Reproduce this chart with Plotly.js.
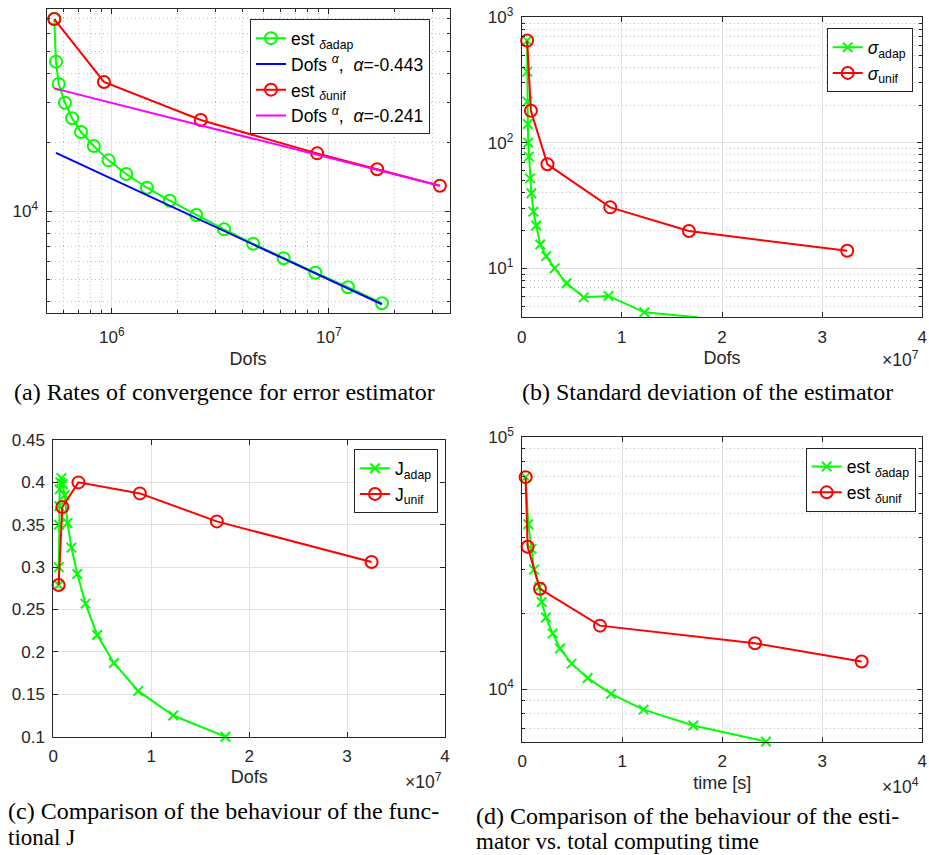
<!DOCTYPE html>
<html>
<head>
<meta charset="utf-8">
<script src="https://cdn.plot.ly/plotly-3.0.1.min.js"></script>
<style>
  html, body { margin: 0; padding: 0; background: #fff; }
  #fig { width: 929px; height: 855px; }
</style>
</head>
<body>
<div id="fig"></div>
<script>
// ---- Data ----------------------------------------------------------------
// Degrees of freedom of the adaptive refinement steps
const dofsAdap = [5.43e5, 5.53e5, 5.69e5, 6.08e5, 6.56e5, 7.21e5, 8.26e5, 9.66e5, 1.166e6,
                  1.452e6, 1.849e6, 2.45e6, 3.29e6, 4.48e6, 6.19e6, 8.67e6, 1.225e7, 1.758e7];
// Error estimator, adaptive
const estAdap = [6.95e4, 4.52e4, 3.61e4, 2.985e4, 2.55e4, 2.22e4, 1.928e4, 1.668e4, 1.453e4,
                 1.265e4, 1.11e4, 9.6e3, 8.31e3, 7.19e3, 6.21e3, 5.36e3, 4.63e3, 3.94e3];
// Degrees of freedom of the uniform refinement steps
const dofsUnif = [5.43e5, 9.2e5, 2.57e6, 8.84e6, 1.67e7, 3.25e7];
// Error estimator, uniform
const estUnif = [6.95e4, 3.68e4, 2.506e4, 1.79e4, 1.524e4, 1.29e4];

// Fitted convergence rates (end points of the reference lines)
const alphaAdap = -0.443;
const fitAdapDofs = [5.53e5, 1.758e7];
const fitAdapEst = [1.80e4, 3.90e3];
const alphaUnif = -0.241;
const fitUnifDofs = [5.43e5, 3.25e7];
const fitUnifEst = [3.45e4, 1.29e4];

// Standard deviation of the estimator
const sigmaAdap = [652, 369, 213, 141, 100, 77.6, 52.1, 39.6, 28.3, 21.9, 15.5, 12.5,
                   10.0, 7.6, 5.87, 6.02, 4.46, 4.07];
const sigmaUnif = [652, 180, 67.4, 30.6, 19.8, 13.8];

// Functional J
const JAdap = [0.279, 0.300, 0.350, 0.372, 0.392, 0.400, 0.405, 0.398, 0.385,
               0.352, 0.323, 0.292, 0.257, 0.220, 0.187, 0.154, 0.125, 0.100];
const JUnif = [0.279, 0.371, 0.400, 0.387, 0.354, 0.306];

// Total computing time [s] (adaptive run: first 15 steps)
const timeAdap = [333, 600, 933, 1167, 1700, 1933, 2367, 3033, 3767, 4933, 6533, 8867,
                  12133, 17100, 24367];
const timeUnif = [333, 533, 1767, 7767, 23267, 33933];

// Tick values
const linTicks7 = [0, 1e7, 2e7, 3e7, 4e7];
const linTicks4 = [0, 1e4, 2e4, 3e4, 4e4];
const linTickText = ['0', '1', '2', '3', '4'];
const jTicks = [0.1, 0.15, 0.2, 0.25, 0.3, 0.35, 0.4, 0.45];

// ---- Layout helpers --------------------------------------------------------
const W = 929, H = 855;
const px = v => v / W;
const py = v => 1 - v / H;
const xdom = (a, b) => [px(a), px(b)];
const ydom = (top, bottom) => [py(bottom), py(top)];

const SANS = 'Liberation Sans, Arial, Helvetica, sans-serif';
const SERIF = 'Liberation Serif, Times New Roman, serif';
const AX = '#262626';
const GREEN = '#00ff00', RED = '#ff0000', BLUE = '#0000ff', MAGENTA = '#ff00ff';

function decadeMinor(lo, hi) {
  const out = [];
  for (let e = lo; e < hi; e++) {
    for (let m = 2; m <= 9; m++) out.push(m * Math.pow(10, e));
  }
  return out;
}

function axis(extra) {
  return Object.assign({
    showline: true, linecolor: AX, linewidth: 1, mirror: 'ticks',
    ticks: 'inside', ticklen: 5, tickwidth: 1, tickcolor: AX,
    showgrid: true, gridcolor: '#e0e0e0', gridwidth: 1, zeroline: false,
    tickfont: { family: SANS, size: 17, color: AX },
    tickmode: 'array'
  }, extra);
}
function minorLog(vals) {
  return {
    tickmode: 'array', tickvals: vals, ticks: 'inside', ticklen: 3, tickcolor: AX,
    showgrid: true, gridcolor: '#bdbdbd', griddash: '1px,3px', gridwidth: 1
  };
}
function xtitle(text, standoff) {
  return { text: text, font: { family: SANS, size: 18, color: AX }, standoff: standoff };
}
function legendAt(x, y) {
  return {
    x: px(x), y: py(y), xanchor: 'left', yanchor: 'top',
    bgcolor: '#ffffff', bordercolor: AX, borderwidth: 1,
    font: { family: SANS, size: 17.5, color: '#000' },
    tracegroupgap: 0, itemwidth: 30
  };
}

const circ = (color) => ({ symbol: 'circle-open', size: 12, color: color, line: { width: 2, color: color } });
const cross = (color) => ({ symbol: 'x-thin-open', size: 9.5, color: color, line: { width: 2, color: color } });
const ln = (color) => ({ color: color, width: 2 });

// ---- Traces ------------------------------------------------------------------
const traces = [
  // (a) convergence rates
  { x: dofsAdap, y: estAdap, xaxis: 'x', yaxis: 'y', legend: 'legend', mode: 'lines+markers',
    line: ln(GREEN), marker: circ(GREEN), cliponaxis: false,
    name: 'est <sub><i>δ</i>adap</sub>' },
  { x: fitAdapDofs, y: fitAdapEst, xaxis: 'x', yaxis: 'y', legend: 'legend', mode: 'lines',
    line: ln(BLUE), name: 'Dofs <sup><i>α</i></sup>,  <i>α</i>=' + alphaAdap.toFixed(3) },
  { x: dofsUnif, y: estUnif, xaxis: 'x', yaxis: 'y', legend: 'legend', mode: 'lines+markers',
    line: ln(RED), marker: circ(RED), cliponaxis: false,
    name: 'est <sub><i>δ</i>unif</sub>' },
  { x: fitUnifDofs, y: fitUnifEst, xaxis: 'x', yaxis: 'y', legend: 'legend', mode: 'lines',
    line: ln(MAGENTA), name: 'Dofs <sup><i>α</i></sup>,  <i>α</i>=' + alphaUnif.toFixed(3) },

  // (b) standard deviation
  { x: dofsAdap, y: sigmaAdap, xaxis: 'x2', yaxis: 'y2', legend: 'legend2', mode: 'lines+markers',
    line: ln(GREEN), marker: cross(GREEN), cliponaxis: false, name: '<i>σ</i><sub>adap</sub>' },
  { x: dofsUnif, y: sigmaUnif, xaxis: 'x2', yaxis: 'y2', legend: 'legend2', mode: 'lines+markers',
    line: ln(RED), marker: circ(RED), cliponaxis: false, name: '<i>σ</i><sub>unif</sub>' },

  // (c) functional J
  { x: dofsAdap, y: JAdap, xaxis: 'x3', yaxis: 'y3', legend: 'legend3', mode: 'lines+markers',
    line: ln(GREEN), marker: cross(GREEN), cliponaxis: false, name: 'J<sub>adap</sub>' },
  { x: dofsUnif, y: JUnif, xaxis: 'x3', yaxis: 'y3', legend: 'legend3', mode: 'lines+markers',
    line: ln(RED), marker: circ(RED), cliponaxis: false, name: 'J<sub>unif</sub>' },

  // (d) estimator vs. computing time
  { x: timeAdap, y: estAdap.slice(0, timeAdap.length), xaxis: 'x4', yaxis: 'y4', legend: 'legend4',
    mode: 'lines+markers', line: ln(GREEN), marker: cross(GREEN), cliponaxis: false,
    name: 'est <sub><i>δ</i>adap</sub>' },
  { x: timeUnif, y: estUnif, xaxis: 'x4', yaxis: 'y4', legend: 'legend4', mode: 'lines+markers',
    line: ln(RED), marker: circ(RED), cliponaxis: false, name: 'est <sub><i>δ</i>unif</sub>' }
];

// ---- Captions and exponent labels ------------------------------------------------
function note(text, x, y, xanchor, font) {
  return { text: text, x: px(x), y: py(y), xref: 'paper', yref: 'paper', xanchor: xanchor,
           yanchor: 'middle', showarrow: false, font: font };
}
const capFont = { family: SERIF, size: 24, color: '#000' };
const capFont2 = { family: SERIF, size: 23, color: '#000' };
const expFont = { family: SANS, size: 17.5, color: AX };

const annotations = [
  note('(a) Rates of convergence for error estimator', 224, 392, 'center', capFont),
  note('(b) Standard deviation of the estimator', 707, 392, 'center', capFont),
  note('(c) Comparison of the behaviour of the func-', 6, 811, 'left', capFont),
  note('tional J', 6, 837, 'left', capFont2),
  note('(d) Comparison of the behaviour of the esti-', 474, 816, 'left', capFont),
  note('mator vs. total computing time', 474, 841, 'left', capFont2),
  note('×10<sup>7</sup>', 921, 359, 'right', expFont),
  note('×10<sup>7</sup>', 444, 781, 'right', expFont),
  note('×10<sup>4</sup>', 921, 786, 'right', expFont)
];

// ---- Layout --------------------------------------------------------------------
const layout = {
  width: W, height: H,
  margin: { l: 0, r: 0, t: 0, b: 0, pad: 0 },
  paper_bgcolor: '#ffffff', plot_bgcolor: '#ffffff',
  font: { family: SANS, color: AX },
  showlegend: true,

  xaxis: axis({ domain: xdom(46.5, 449.5), anchor: 'y', type: 'log',
    range: [Math.log10(5e5), Math.log10(3.6e7)],
    tickvals: [1e6, 1e7], ticktext: ['10<sup>6</sup>', '10<sup>7</sup>'],
    ticklabelstandoff: 8,
    minor: minorLog([6e5, 7e5, 8e5, 9e5].concat(decadeMinor(6, 7), [2e7, 3e7])),
    title: xtitle('Dofs', 6) }),
  yaxis: axis({ domain: ydom(9, 313.3), anchor: 'x', type: 'log',
    range: [Math.log10(3.56e3), Math.log10(7.69e4)],
    tickvals: [1e4], ticktext: ['10<sup>4</sup>'], ticklabelstandoff: 4,
    minor: minorLog([4e3, 5e3, 6e3, 7e3, 8e3, 9e3, 2e4, 3e4, 4e4, 5e4, 6e4, 7e4]) }),

  xaxis2: axis({ domain: xdom(521.7, 922.3), anchor: 'y2', range: [0, 4e7],
    tickvals: linTicks7, ticktext: linTickText, ticklabelstandoff: 4,
    title: xtitle('Dofs', 5) }),
  yaxis2: axis({ domain: ydom(17.3, 317.3), anchor: 'x2', type: 'log',
    range: [Math.log10(4.07), 3], ticklabelstandoff: 4,
    tickvals: [10, 100, 1000], ticktext: ['10<sup>1</sup>', '10<sup>2</sup>', '10<sup>3</sup>'],
    minor: minorLog([5, 6, 7, 8, 9].concat(decadeMinor(1, 3))) }),

  xaxis3: axis({ domain: xdom(53.3, 445), anchor: 'y3', range: [0, 4e7],
    tickvals: linTicks7, ticktext: linTickText, ticklabelstandoff: 4,
    title: xtitle('Dofs', 5) }),
  yaxis3: axis({ domain: ydom(440, 736.7), anchor: 'x3', range: [0.1, 0.45],
    tickvals: jTicks, ticklabelstandoff: 4 }),

  xaxis4: axis({ domain: xdom(522.3, 922.3), anchor: 'y4', range: [0, 4e4],
    tickvals: linTicks4, ticktext: linTickText, ticklabelstandoff: 4,
    title: xtitle('time [s]', 6) }),
  yaxis4: axis({ domain: ydom(437.3, 741.7), anchor: 'x4', type: 'log',
    range: [Math.log10(6.2e3), 5], ticklabelstandoff: 4,
    tickvals: [1e4, 1e5], ticktext: ['10<sup>4</sup>', '10<sup>5</sup>'],
    minor: minorLog([7e3, 8e3, 9e3].concat(decadeMinor(4, 5))) }),

  legend: legendAt(250, 19.3),
  legend2: legendAt(826.7, 28.3),
  legend3: legendAt(354, 449.3),
  legend4: legendAt(805.7, 447.7),

  annotations: annotations
};

Plotly.newPlot('fig', traces, layout, { displayModeBar: false, staticPlot: true });
</script>
</body>
</html>
